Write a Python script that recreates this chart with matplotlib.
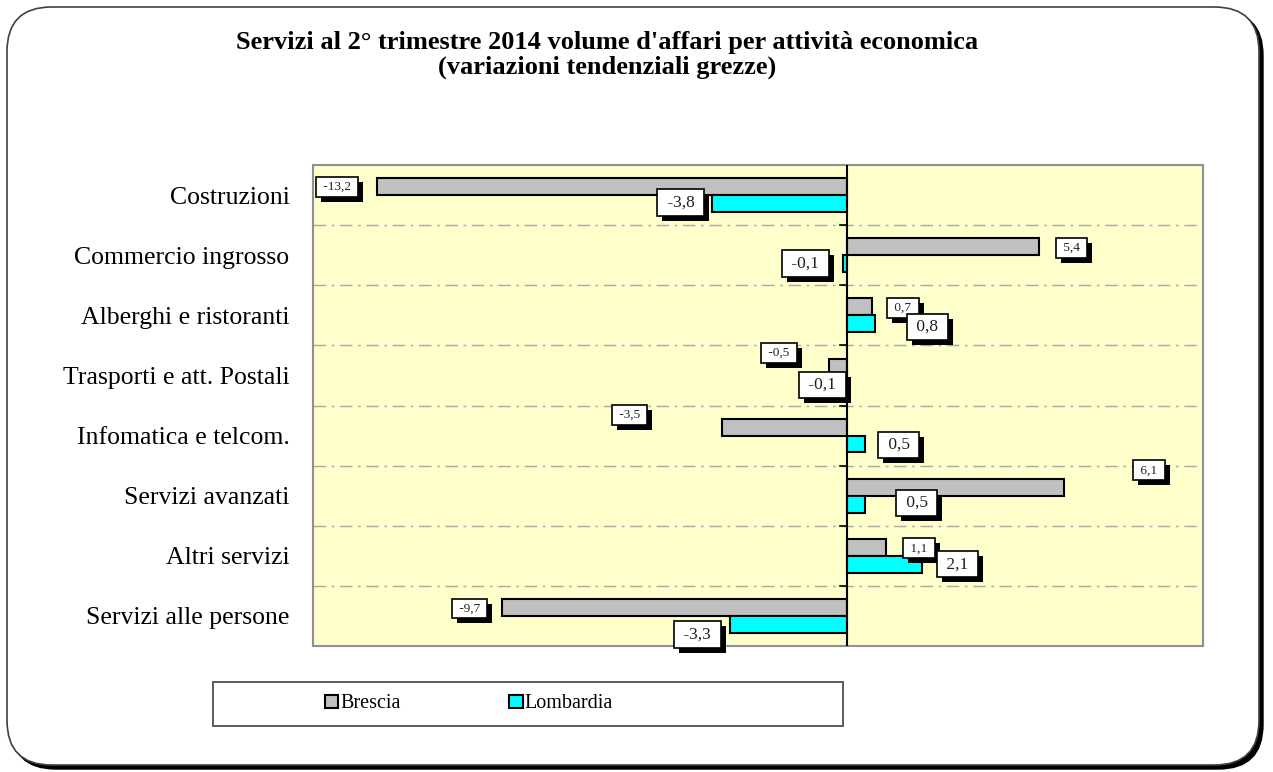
import matplotlib
matplotlib.use("Agg")
import matplotlib.pyplot as plt
import matplotlib.patheffects as pe
from matplotlib.patches import FancyBboxPatch, Rectangle, Patch

# dati
categorie = ["Costruzioni", "Commercio ingrosso", "Alberghi e ristoranti",
             "Trasporti e att. Postali", "Infomatica e telcom.",
             "Servizi avanzati", "Altri servizi", "Servizi alle persone"]
brescia = [-13.2, 5.4, 0.7, -0.5, -3.5, 6.1, 1.1, -9.7]
lombardia = [-3.8, -0.1, 0.8, -0.1, 0.5, 0.5, 2.1, -3.3]

# spostamento delle etichette (pixel) rispetto alla fine della barra
off_b = [(-40, 0), (32, -1), (31, -1), (-50, 14), (-93, 12), (85, 17), (33, -1), (-32, -1)]
off_l = [(-31, 1), (-38, 0), (52, -3), (-21, -1), (34, -1), (52, 1), (36, 0), (-32, -10)]

plt.rcParams['font.family'] = ['Liberation Serif', 'DejaVu Serif']

fig = plt.figure(figsize=(12.73, 7.72), dpi=100)
W, H = 1273, 772

# cornice arrotondata con ombra
shadow = FancyBboxPatch((11 / W, 3 / H), 1252 / W, 758 / H,
                        boxstyle="round,pad=0,rounding_size=0.035",
                        transform=fig.transFigure, facecolor="black",
                        edgecolor="black", zorder=0, mutation_aspect=W / H)
frame = FancyBboxPatch((7 / W, 7 / H), 1252 / W, 758 / H,
                       boxstyle="round,pad=0,rounding_size=0.035",
                       transform=fig.transFigure, facecolor="white",
                       edgecolor="#404040", linewidth=1.2, zorder=0.5,
                       mutation_aspect=W / H)
fig.patches.extend([shadow, frame])

fig.text(0.477, 1 - 42 / H, "Servizi al 2° trimestre 2014 volume d'affari per attività economica",
         ha="center", va="center", fontsize=19, fontweight="bold")
fig.text(0.477, 1 - 67 / H, "(variazioni tendenziali grezze)",
         ha="center", va="center", fontsize=19, fontweight="bold")

ax = fig.add_axes([313 / W, 1 - 646 / H, 890 / W, 481 / H])
ax.set_zorder(2)
ax.set_facecolor("#FFFFCC")

n = len(categorie)
pos = list(range(n))
h = 0.28
ax.barh([p - 0.14 for p in pos], brescia, height=h, color="#C0C0C0",
        edgecolor="black", linewidth=1.5, zorder=3)
ax.barh([p + 0.14 for p in pos], lombardia, height=h, color="#00FFFF",
        edgecolor="black", linewidth=1.5, zorder=3)

ax.set_xlim(-15, 10)
ax.set_ylim(n - 0.5, -0.5)
ax.axvline(0, color="black", linewidth=1.5, zorder=4)

# linee di separazione
for b in [p + 0.5 for p in pos[:-1]]:
    ax.axhline(b, color="#A8A8A8", linewidth=1, linestyle=(0, (9, 4, 2, 4)), zorder=1)
    ax.plot([-0.2, 0], [b, b], color="black", linewidth=1.2, zorder=4)

ax.set_yticks(pos)
ax.set_yticklabels(categorie, fontsize=18.5)
ax.tick_params(axis="y", length=0, pad=17)
ax.set_xticks([])
for s in ax.spines.values():
    s.set_color("#909090")
    s.set_linewidth(1.5)


def fmt(v):
    return f"{v:.1f}".replace(".", ",")


def etichetta(v, y, off, fs):
    t = ax.annotate(" " + fmt(v) + " ", (v, y), xytext=off, textcoords="offset pixels",
                    ha="center", va="center", fontsize=fs, color="#202020", zorder=6,
                    bbox=dict(boxstyle="square,pad=0.3", facecolor="white",
                              edgecolor="black", linewidth=1.2))
    t.get_bbox_patch().set_path_effects(
        [pe.SimplePatchShadow(offset=(3.6, -3.6), shadow_rgbFace="black", alpha=1),
         pe.Normal()])


for i in range(n):
    etichetta(brescia[i], i - 0.14, off_b[i], 9.5)
    etichetta(lombardia[i], i + 0.14, off_l[i], 12.5)

# legenda
fig.patches.append(Rectangle((213 / W, 1 - 726 / H), 630 / W, 44 / H,
                             transform=fig.transFigure, facecolor="white",
                             edgecolor="#404040", linewidth=1.2, zorder=1))
handles = [Patch(facecolor="#C0C0C0", edgecolor="black", linewidth=1.5),
           Patch(facecolor="#00FFFF", edgecolor="black", linewidth=1.5)]
leg = fig.legend(handles, ["Brescia", "Lombardia"], loc="center",
                 bbox_to_anchor=(469 / W, 1 - 704 / H), ncol=2, frameon=False,
                 fontsize=14.5, handlelength=0.65, handleheight=0.65, handletextpad=0.1,
                 columnspacing=5.4)
leg.set_zorder(3)

fig.savefig("out.png", dpi=100)
